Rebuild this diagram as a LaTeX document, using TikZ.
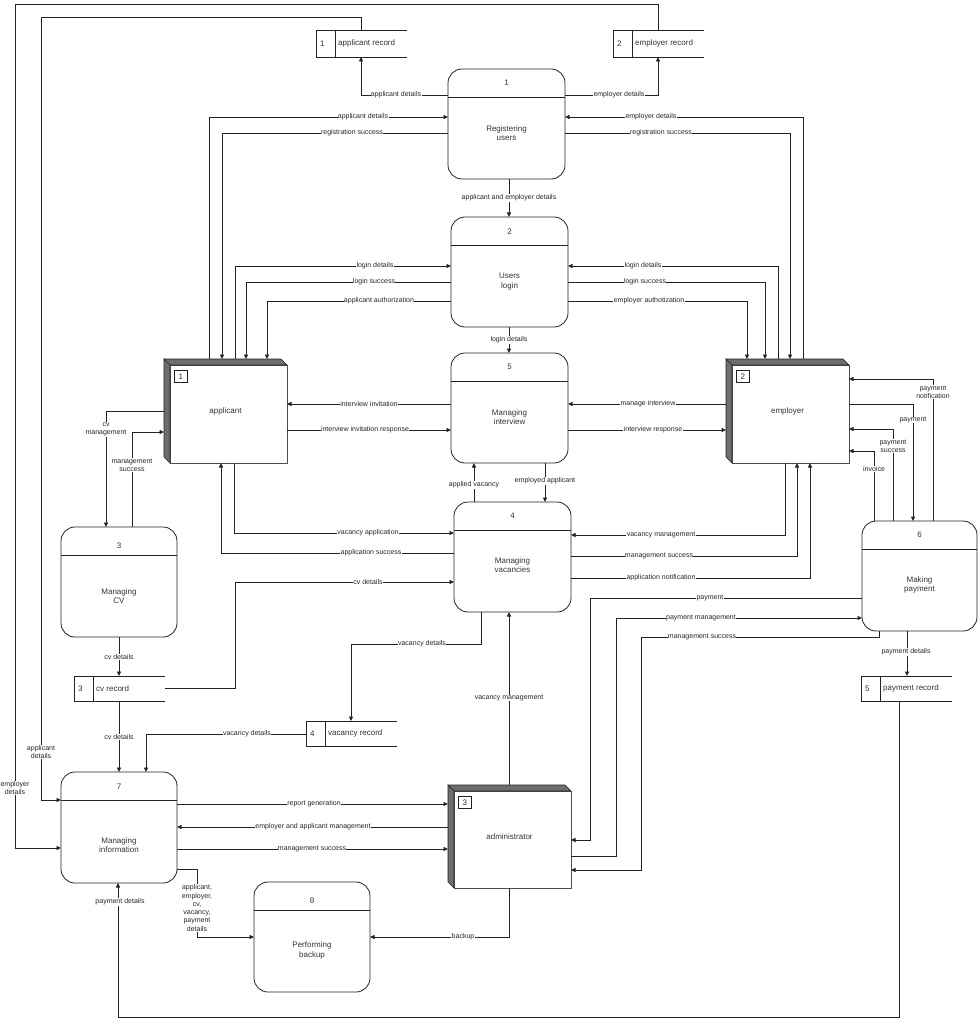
\documentclass[tikz,border=0pt]{standalone}
\usepackage{fontspec}
\setmainfont{Liberation Sans}
\usetikzlibrary{arrows.meta}
\definecolor{ln}{HTML}{222222}
\definecolor{darkband}{HTML}{6E6E6E}
\definecolor{txt}{HTML}{333333}
\tikzset{
 flow/.style={draw=ln, line width=0.8pt, -{Triangle[length=4.5pt,width=4pt]}},
 wire/.style={draw=ln, line width=0.8pt},
 lbl/.style={font=\fontsize{7}{8.3}\selectfont, fill=white, inner sep=0.4pt, text=black!85, align=center},
 boxtxt/.style={font=\fontsize{8}{9.2}\selectfont, text=txt, align=center, inner sep=0pt},
}
\newcommand\mkproc[9]{%
 \node[draw=ln, line width=0.8pt, rounded corners=14pt, inner sep=0pt, outer sep=0pt, minimum width=#4pt, minimum height=#5pt, anchor=north west] (#1) at (#2,#3) {};
 \draw[wire] ([yshift=-28pt]#1.north west) -- ([yshift=-28pt]#1.north east);
 \node[boxtxt] (#1num) at ([yshift=-#9pt]#1.north) {#6};
 \node[boxtxt] (#1txt) at ([yshift=-#8pt]#1.north) {#7};
}
\newcommand\mkstore[6]{%
 \node[inner sep=0pt, outer sep=0pt, minimum width=91pt, minimum height=#4pt, anchor=north west] (#1) at (#2,#3) {};
 \draw[wire] (#1.north east) -- (#1.north west) -- (#1.south west) -- (#1.south east);
 \draw[wire] ([xshift=19pt]#1.north west) -- ([xshift=19pt]#1.south west);
 \node[boxtxt, anchor=west] (#1num) at ([xshift=4pt]#1.west) {#5};
 \node[boxtxt, anchor=west] (#1txt) at ([xshift=22pt]#1.west) {#6};
}
\newcommand\mkext[7]{%
 \node[inner sep=0pt, outer sep=0pt, minimum width=#4pt, minimum height=#5pt, anchor=north west] (#1) at (#2,#3) {};
 \draw[line width=0.7pt, draw=ln!80, fill=white] ([xshift=6pt,yshift=-6pt]#1.north west) rectangle (#1.south east);
 \filldraw[fill=darkband, draw=ln, line width=0.6pt] (#1.north west) -- ([xshift=-6pt]#1.north east) -- ([yshift=-6pt]#1.north east) -- ([xshift=6pt,yshift=-6pt]#1.north west) -- cycle;
 \filldraw[fill=darkband, draw=ln, line width=0.6pt] (#1.north west) -- ([xshift=6pt,yshift=-6pt]#1.north west) -- ([xshift=6pt]#1.south west) -- ([yshift=6pt]#1.south west) -- cycle;
 \node[boxtxt, draw=ln, line width=0.5pt, minimum width=13pt, minimum height=12pt, anchor=north west] (#1num) at ([xshift=10pt,yshift=-11pt]#1.north west) {#6};
 \node[boxtxt] (#1txt) at ([yshift=-52pt]#1.north) {#7};
}
\begin{document}
\begin{tikzpicture}[x=1pt,y=-1pt]
\useasboundingbox (0,0) rectangle (979,1024);
% processes
\mkproc{p1}{448}{69}{117}{110}{1}{Registering\\users}{64.5}{14}
\mkproc{p2}{451}{217}{117}{110}{2}{Users\\login}{64.5}{14.5}
\mkproc{p5}{451}{353}{117}{110}{5}{Managing\\interview}{64.5}{14}
\mkproc{p4}{454}{502}{117}{110}{4}{Managing\\vacancies}{63.5}{14}
\mkproc{p3}{61}{527}{116}{110}{3}{Managing\\CV}{69}{19}
\mkproc{p6}{862}{521}{115}{110}{6}{Making\\payment}{64}{14}
\mkproc{p7}{61}{772}{116}{111}{7}{Managing\\information}{73}{15}
\mkproc{p8}{254}{882}{116}{110}{8}{Performing\\backup}{68.5}{19}
% external entities
\mkext{e1}{164}{359}{123}{104}{1}{applicant}
\mkext{e2}{726}{359}{123}{104}{2}{employer}
\mkext{e3}{448}{785}{123}{103}{3}{administrator}
% data stores
\mkstore{d1}{316}{30}{27}{1}{applicant record}
\mkstore{d2}{613}{30}{27}{2}{employer record}
\mkstore{d3}{74}{676}{25}{3}{cv record}
\mkstore{d4}{306}{721}{25}{4}{vacancy record}
\mkstore{d5}{861}{676}{25}{5}{payment record}
% registration
\draw[flow] (p1.west |- 0,95) -| (d1.south -| 361,0);
\draw[flow] (p1.east |- 0,95) -| (d2.south -| 658,0);
\draw[flow] (e1.north -| 209,0) |- (p1.west |- 0,117);
\draw[flow] (p1.west |- 0,133) -| (e1.north -| 222,0);
\draw[flow] (e2.north -| 803,0) |- (p1.east |- 0,117);
\draw[flow] (p1.east |- 0,133) -| (e2.north -| 790,0);
\draw[flow] (p1.south -| 509,0) -- (p2.north -| 509,0);
% outer lines
\draw[flow] (d1.north -| 361,0) -- (361,17) -- (41,17) |- (p7.west |- 0,800);
\draw[flow] (d2.north -| 658,0) -- (658,4) -- (15,4) |- (p7.west |- 0,848);
% login
\draw[flow] (e1.north -| 235,0) |- (p2.west |- 0,266);
\draw[flow] (p2.west |- 0,282) -| (e1.north -| 246,0);
\draw[flow] (p2.west |- 0,301) -| (e1.north -| 267,0);
\draw[flow] (e2.north -| 778,0) |- (p2.east |- 0,266);
\draw[flow] (p2.east |- 0,282) -| (e2.north -| 765,0);
\draw[flow] (p2.east |- 0,301) -| (e2.north -| 747,0);
\draw[flow] (p2.south -| 509,0) -- (p5.north -| 509,0);
% interview
\draw[flow] (p5.west |- 0,404) -- (e1.east |- 0,404);
\draw[flow] (e1.east |- 0,430) -- (p5.west |- 0,430);
\draw[flow] (e2.west |- 0,404) -- (p5.east |- 0,404);
\draw[flow] (p5.east |- 0,430) -- (e2.west |- 0,430);
% cv management
\draw[flow] (e1.west |- 0,411) -| (p3.north -| 106,0);
\draw[flow] (p3.north -| 132,0) |- (e1.west |- 0,432);
% vacancies
\draw[flow] (e1.south -| 234,0) |- (p4.west |- 0,533);
\draw[flow] (p4.west |- 0,553) -| (e1.south -| 221,0);
\draw[flow] (d3.east |- 0,688) -| (235,582) -- (p4.west |- 0,582);
\draw[flow] (p4.north -| 474,0) -- (p5.south -| 474,0);
\draw[flow] (p5.south -| 545,0) -- (p4.north -| 545,0);
\draw[flow] (e2.south -| 785,0) |- (p4.east |- 0,535);
\draw[flow] (p4.east |- 0,556) -| (e2.south -| 797,0);
\draw[flow] (p4.east |- 0,578) -| (e2.south -| 810,0);
\draw[flow] (p4.south -| 481,0) |- (351,644) -- (d4.north -| 351,0);
% payment
\draw[flow] (p6.north -| 933,0) |- (e2.east |- 0,379);
\draw[flow] (e2.east |- 0,404) -| (p6.north -| 913,0);
\draw[flow] (p6.north -| 893,0) |- (e2.east |- 0,429);
\draw[flow] (p6.north -| 874,0) |- (e2.east |- 0,451);
\draw[flow] (p6.west |- 0,598) -- (590,598) |- (e3.east |- 0,840);
\draw[flow] (e3.east |- 0,856) -| (616,618) -- (p6.west |- 0,618);
\draw[flow] (p6.south -| 879,0) |- (641,637) |- (e3.east |- 0,870);
\draw[flow] (p6.south -| 907,0) -- (d5.north -| 907,0);
\draw[flow] (d5.south -| 899,0) -- (899,1017) -| (p7.south -| 118,0);
% cv record
\draw[flow] (p3.south -| 119,0) -- (d3.north -| 119,0);
\draw[flow] (d3.south -| 119,0) -- (p7.north -| 119,0);
\draw[flow] (d4.west |- 0,734) -| (p7.north -| 146,0);
% administrator
\draw[flow] (e3.north -| 509,0) -- (p4.south -| 509,0);
\draw[flow] (p7.east |- 0,804) -- (e3.west |- 0,804);
\draw[flow] (e3.west |- 0,827) -- (p7.east |- 0,827);
\draw[flow] (p7.east |- 0,849) -- (e3.west |- 0,849);
\draw[flow] (p7.east |- 0,869) -- (197,869) |- (p8.west |- 0,937);
\draw[flow] (e3.south -| 509,0) |- (p8.east |- 0,937);
% labels
\node[lbl] (l1) at (396,95) {applicant details};
\node[lbl] (l2) at (619,95) {employer details};
\node[lbl] (l3) at (363,117) {applicant details};
\node[lbl] (l4) at (352,133) {registration success};
\node[lbl] (l5) at (651,117) {employer details};
\node[lbl] (l6) at (661,133) {registration success};
\node[lbl] (l7) at (509,198) {applicant and employer details};
\node[lbl] (l8) at (41,752) {applicant\\details};
\node[lbl] (l9) at (15,788) {employer\\details};
\node[lbl] (l10) at (375,266) {login details};
\node[lbl] (l11) at (374,282) {login success};
\node[lbl] (l12) at (379,301) {applicant authorization};
\node[lbl] (l13) at (643,266) {login details};
\node[lbl] (l14) at (645,282) {login success};
\node[lbl] (l15) at (649,301) {employer authotization};
\node[lbl] (l16) at (509,340) {login details};
\node[lbl] (l17) at (369,404) {interview invitation};
\node[lbl] (l18) at (365,430) {interview invitation response};
\node[lbl] (l19) at (648,404) {manage interview};
\node[lbl] (l20) at (653,430) {interview response};
\node[lbl] (l21) at (106,429.5) {cv\\management};
\node[lbl] (l22) at (132,465) {management\\success};
\node[lbl] (l23) at (368,533) {vacancy application};
\node[lbl] (l24) at (371,553) {application success};
\node[lbl] (l25) at (368,582) {cv details};
\node[lbl] (l26) at (474,485) {applied vacancy};
\node[lbl] (l27) at (545,481) {employed applicant};
\node[lbl] (l28) at (661,535) {vacancy management};
\node[lbl] (l29) at (659,556) {management success};
\node[lbl] (l30) at (661,578) {application notification};
\node[lbl] (l31) at (422,644) {vacancy details};
\node[lbl] (l32) at (933,392) {payment\\notification};
\node[lbl] (l33) at (913,420) {payment};
\node[lbl] (l34) at (893,446) {payment\\success};
\node[lbl] (l35) at (874,469) {invoice};
\node[lbl] (l36) at (710,598) {payment};
\node[lbl] (l37) at (701,618) {payment management};
\node[lbl] (l38) at (702,637) {management success};
\node[lbl] (l39) at (906,652) {payment details};
\node[lbl] (l40) at (120,902) {payment details};
\node[lbl] (l41) at (119,657) {cv details};
\node[lbl] (l42) at (119,737) {cv details};
\node[lbl] (l43) at (247,734) {vacancy details};
\node[lbl] (l44) at (509,698) {vacancy management};
\node[lbl] (l45) at (314,804) {report generation};
\node[lbl] (l46) at (313,827) {employer and applicant management};
\node[lbl] (l47) at (312,849) {management success};
\node[lbl] (l48) at (197,908) {applicant,\\employer,\\cv,\\vacancy,\\payment\\details};
\node[lbl] (l49) at (463,937) {backup};
\end{tikzpicture}
\end{document}
